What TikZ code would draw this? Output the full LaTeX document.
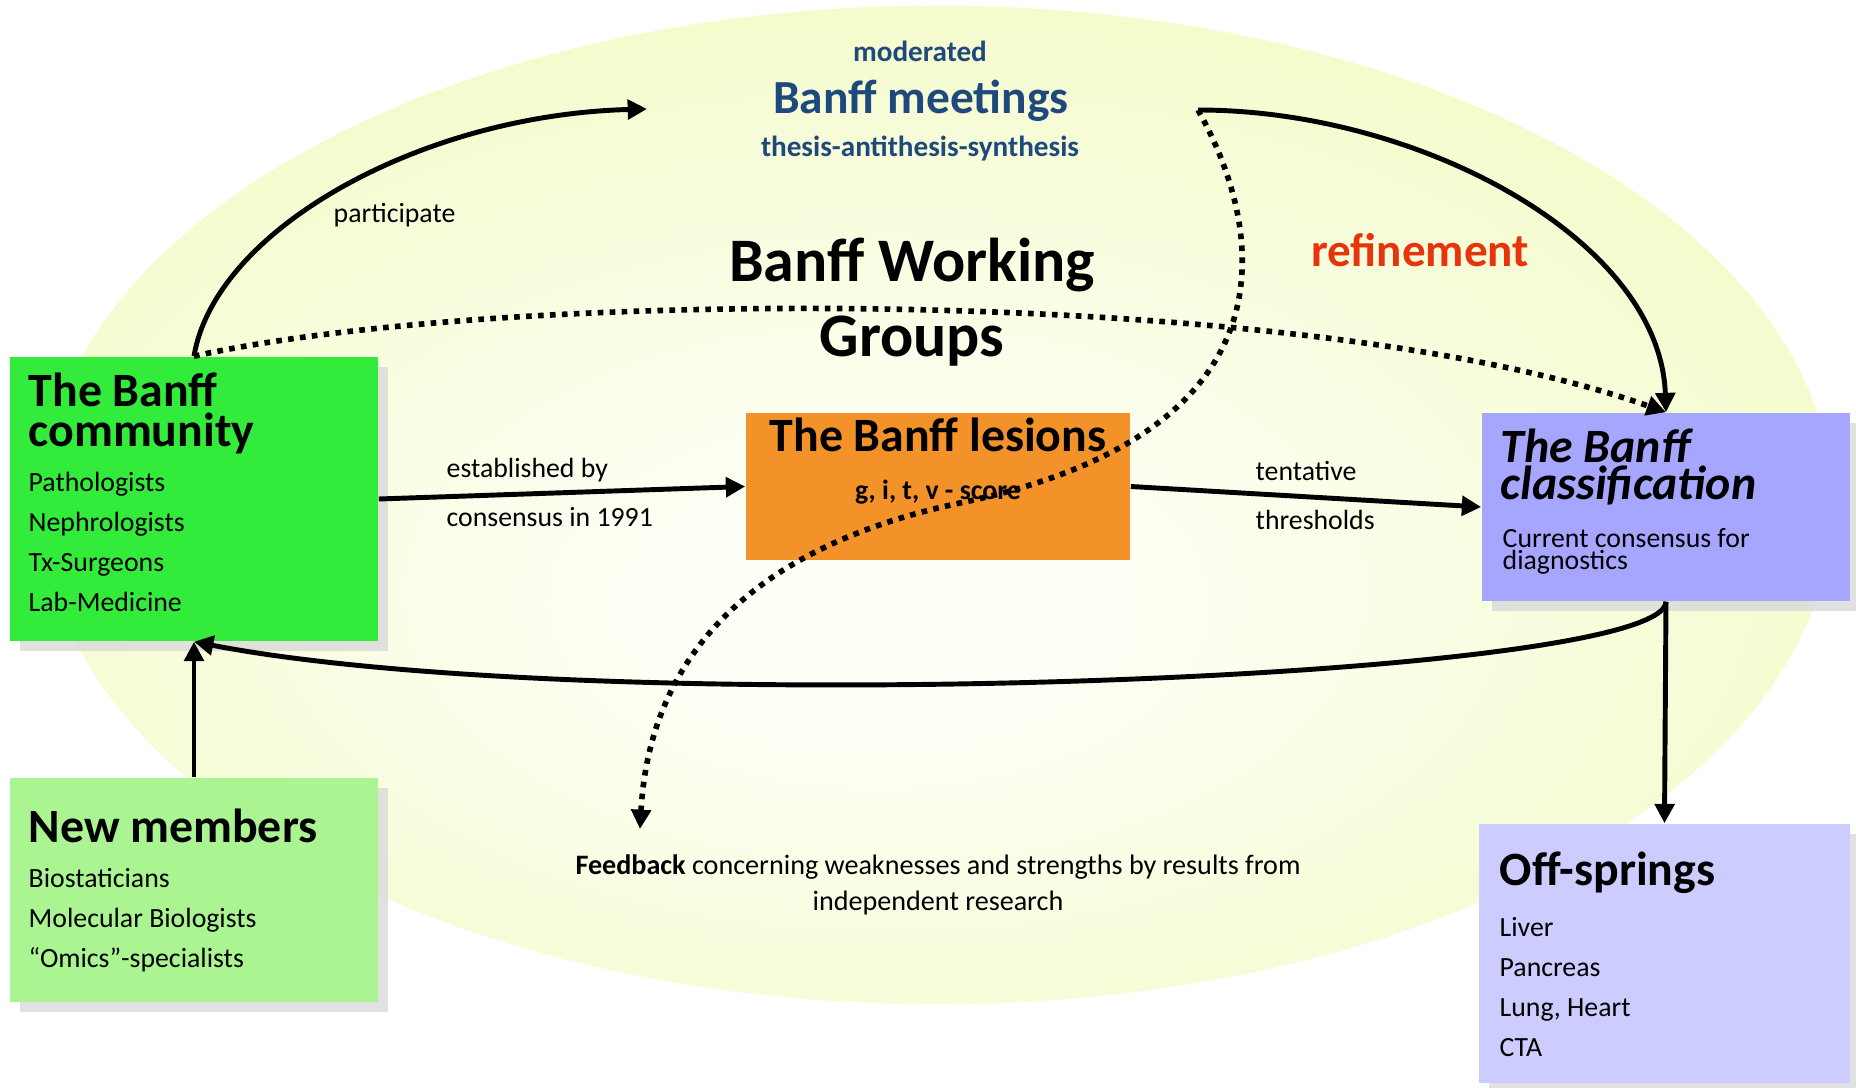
\documentclass[tikz,border=0pt]{standalone}
\usepackage{fontspec}
\setmainfont{Carlito}
\usetikzlibrary{arrows.meta,positioning,shadows}

\definecolor{commgreen}{RGB}{51,235,59}
\definecolor{newgreen}{RGB}{170,245,145}
\definecolor{lesorange}{RGB}{243,146,41}
\definecolor{clasblue}{RGB}{166,166,255}
\definecolor{offblue}{RGB}{204,204,255}
\definecolor{meetblue}{RGB}{31,73,125}
\definecolor{refred}{RGB}{232,52,12}
\definecolor{ellcenter}{RGB}{254,255,246}
\definecolor{ellouter}{RGB}{236,249,174}
\pgfdeclareradialshading{ellglow}{\pgfpoint{-2bp}{-6bp}}{%
  color(0bp)=(ellcenter); color(6bp)=(ellcenter); color(44bp)=(ellouter); color(50bp)=(ellouter)}

\begin{document}
\begin{tikzpicture}[
    x=0.01cm, y=-0.01cm,    % one unit = one pixel of the sketch
    >={Triangle[length=5.5pt, width=5.5pt]},  % arrow tip style
    box/.style={rectangle, inner sep=0pt,
        drop shadow={shadow xshift=2.85pt, shadow yshift=-2.85pt, fill=black!15, opacity=0.8}},
    flat/.style={rectangle, inner sep=0pt},
    head/.style={inner sep=0pt, align=left, font=\bfseries\fontsize{13.6}{11.4}\selectfont},
    items/.style={inner sep=0pt, align=left, font=\fontsize{7.9}{11.4}\selectfont},
    lbl/.style={inner sep=0pt, align=left, font=\fontsize{7.9}{14.2}\selectfont},
    link/.style={->, line width=1.4pt},
    dots/.style={->, line width=1.6pt, dash pattern=on 1.6pt off 1.8pt}]
    \useasboundingbox (0,0) rectangle (1856,1088);

    % Background
    \shade[shading=ellglow] (937,505) ellipse [x radius=8.95cm, y radius=4.99cm];

    % Boxes
    \node[box, fill=commgreen, minimum width=3.68cm, minimum height=2.84cm] (comm) at (194,499) {};
    \node[box, fill=newgreen, minimum width=3.68cm, minimum height=2.24cm] (newm) at (194,890) {};
    \node[flat, fill=lesorange, minimum width=3.84cm, minimum height=1.47cm] (les) at (938,486.5) {};
    \node[box, fill=clasblue, minimum width=3.68cm, minimum height=1.88cm] (clas) at (1666,507) {};
    \node[box, fill=offblue, minimum width=3.71cm, minimum height=2.59cm] (off) at (1664.5,953.5) {};

    % Box texts (base = last line)
    \node[head, anchor=base west] (commhead) at (28,447) {The Banff\\community};
    \node[items, anchor=base west] (commlist) at (28,612) {Pathologists\\Nephrologists\\Tx-Surgeons\\Lab-Medicine};
    \node[head, anchor=base west] (newhead) at (28,842) {New members};
    \node[items, anchor=base west] (newlist) at (28,968) {Biostaticians\\Molecular Biologists\\“Omics”-specialists};
    \node[head, anchor=base] (leshead) at (938,452) {The Banff lesions};
    \node[lbl, font=\bfseries\fontsize{7.9}{9.5}\selectfont, anchor=base] (lesscore) at (938,500) {g, i, t, v - score};
    \node[head, font=\bfseries\itshape\fontsize{13.6}{10.8}\selectfont, anchor=base west] (clashead) at (1500,500) {The Banff\\classification};
    \node[items, font=\fontsize{7.9}{6.5}\selectfont, anchor=base west] (clastext) at (1502,570) {Current consensus for\\diagnostics};
    \node[head, anchor=base west] (offhead) at (1499,885) {Off-springs};
    \node[items, anchor=base west] (offlist) at (1499,1057) {Liver\\Pancreas\\Lung, Heart\\CTA};

    % Free texts
    \node[inner sep=0pt, text=meetblue, font=\bfseries\fontsize{8.3}{10}\selectfont, anchor=base] (moder) at (920,62) {moderated};
    \node[inner sep=0pt, text=meetblue, font=\bfseries\fontsize{13.5}{14}\selectfont, anchor=base] (meet) at (921,114) {Banff meetings};
    \node[inner sep=0pt, text=meetblue, font=\bfseries\fontsize{8.3}{10}\selectfont, anchor=base] (thesis) at (920,157) {thesis-antithesis-synthesis};
    \node[inner sep=0pt, align=center, font=\bfseries\fontsize{17.6}{21.5}\selectfont, anchor=base] (bwg) at (912,357) {Banff Working\\Groups};
    \node[inner sep=0pt, text=refred, font=\bfseries\fontsize{13.4}{14}\selectfont, anchor=base] (refine) at (1420,267) {refinement};
    \node[lbl, anchor=base west] (partic) at (333,223) {participate};
    \node[lbl, anchor=base west] (estab) at (446,527) {established by\\consensus in 1991};
    \node[lbl, anchor=base west] (tent) at (1255,530) {tentative\\thresholds};
    \node[inner sep=0pt, align=center, font=\fontsize{8}{9.96}\selectfont, anchor=base] (feedb) at (938,910)
        {\textbf{Feedback} concerning weaknesses and strengths by results from\\independent research};

    % Free ends
    \coordinate (partend) at (647,109);
    \coordinate (refstart) at (1198,110);
    \coordinate (fbend) at (640,829);

    % Connectors
    \draw[link] (comm.east) -- (les.west);
    \draw[link] (les.east) -- (clas.west);
    \draw[link] (newm.north) -- (comm.south);
    \draw[link] (clas.south) -- (off.north);
    \draw[link] (comm.north) .. controls (215,230) and (420,115) .. (partend);
    \draw[link] (refstart) .. controls (1420,110) and (1660,240) .. (clas.north);
    \draw[link] (clas.south) .. controls (1664,680) and (600,720) .. (comm.south);
    \draw[dots] (comm.north) .. controls (500,288) and (1300,283) .. (clas.north);
    \draw[dots] (refstart) .. controls (1260,220) and (1310,430) .. (960,503)
        .. controls (760,545) and (650,650) .. (fbend);
\end{tikzpicture}
\end{document}
